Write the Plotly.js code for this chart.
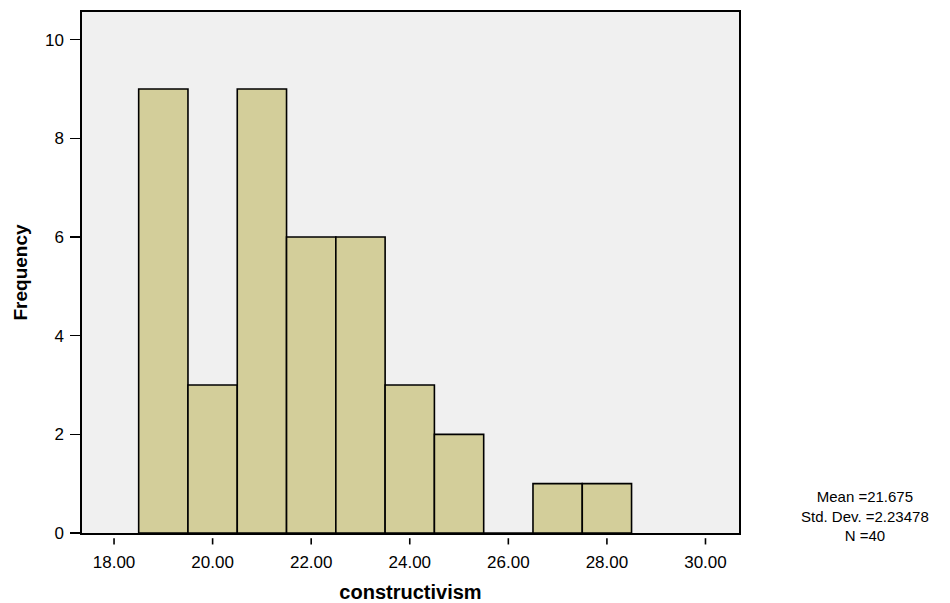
<!DOCTYPE html>
<html>
<head>
<meta charset="utf-8">
<script src="https://cdn.plot.ly/plotly-3.0.1.min.js"></script>
<style>html,body{margin:0;padding:0;background:#fff;}#chart{width:950px;height:603px;}</style>
</head>
<body>
<div id="chart"></div>
<script>
var binCenters = [19, 20, 21, 22, 23, 24, 25, 26, 27, 28];
var frequencies = [9, 3, 9, 6, 6, 3, 2, 0, 1, 1];
var xTickValues = [18, 20, 22, 24, 26, 28, 30];
var yTickValues = [0, 2, 4, 6, 8, 10];
var statsLines = ["Mean =21.675", "Std. Dev. =2.23478", "N =40"];
var xTitle = "constructivism";
var yTitle = "Frequency";

var font = "Liberation Sans, Arial, sans-serif";

var trace = {
  type: "bar",
  x: binCenters,
  y: frequencies,
  width: 1,
  marker: { color: "#d3ce9a", line: { color: "#000", width: 1.6 } },
  hoverinfo: "x+y"
};

var tickShapes = xTickValues.map(function (v) {
  return {
    type: "line", xref: "x", yref: "paper",
    x0: v, x1: v, y0: -0.010, y1: -0.022,
    line: { color: "#000", width: 1.6 }
  };
});

var layout = {
  width: 950, height: 603,
  margin: { l: 82, r: 211, t: 12, b: 70 },
  paper_bgcolor: "#ffffff",
  plot_bgcolor: "#f0f0f0",
  showlegend: false,
  font: { family: font, size: 17, color: "#000" },
  xaxis: {
    range: [17.35, 30.68],
    tickvals: xTickValues,
    ticktext: xTickValues.map(function (v) { return v.toFixed(2); }),
    ticks: "",
    showgrid: false, zeroline: false,
    showline: true, mirror: true, linecolor: "#000", linewidth: 1.6,
    tickfont: { family: font, size: 17 },
    ticklabelstandoff: 13,
    title: { text: "<b>" + xTitle + "</b>", font: { family: font, size: 20 }, standoff: 15 }
  },
  yaxis: {
    range: [0, 10.56],
    tickvals: yTickValues,
    ticks: "outside", ticklen: 10, tickwidth: 1.6, tickcolor: "#000",
    showgrid: false, zeroline: false,
    showline: true, mirror: true, linecolor: "#000", linewidth: 1.6,
    tickfont: { family: font, size: 17 },
    ticklabelstandoff: 3,
    title: { text: "<b>" + yTitle + "</b>", font: { family: font, size: 19 }, standoff: 12 }
  },
  shapes: tickShapes,
  annotations: [{
    xref: "paper", yref: "paper",
    x: 1.1925, y: 0.033, xanchor: "center", yanchor: "middle",
    text: statsLines.join("<br>"),
    showarrow: false, align: "center",
    font: { family: font, size: 15, color: "#000" }
  }]
};

Plotly.newPlot("chart", [trace], layout, { displayModeBar: false, staticPlot: true });
</script>
</body>
</html>
